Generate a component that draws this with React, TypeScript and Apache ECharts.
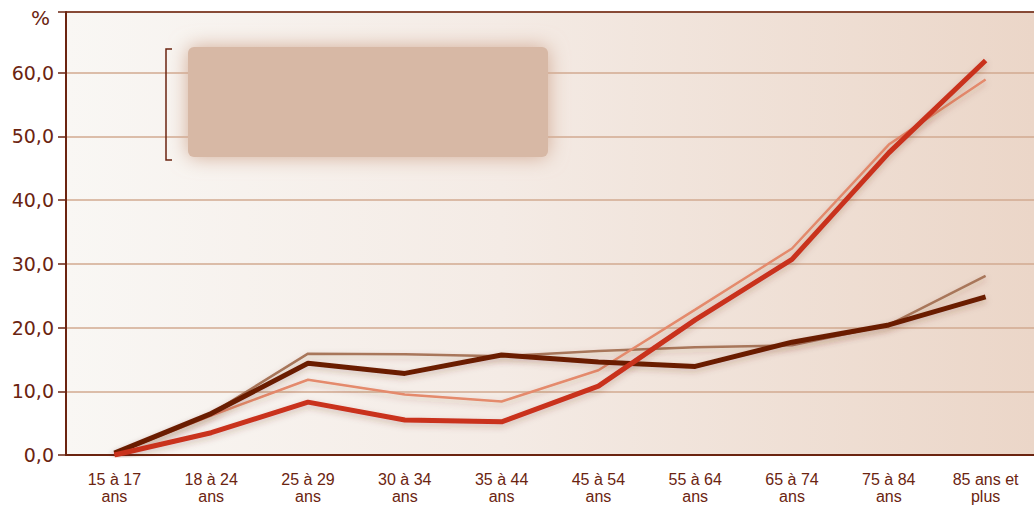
import React, { useEffect, useRef } from "react";
import * as echarts from "echarts";

const categories = [
  "15 à 17\nans",
  "18 à 24\nans",
  "25 à 29\nans",
  "30 à 34\nans",
  "35 à 44\nans",
  "45 à 54\nans",
  "55 à 64\nans",
  "65 à 74\nans",
  "75 à 84\nans",
  "85 ans et\nplus",
];

const darkThick = [0.3, 6.5, 14.4, 12.8, 15.7, 14.6, 13.9, 17.7, 20.4, 24.8];
const brownThin = [0.3, 6.5, 15.9, 15.8, 15.5, 16.3, 16.9, 17.2, 20.4, 28.1];
const salmonThin = [0.2, 6.2, 11.8, 9.5, 8.4, 13.3, 22.8, 32.4, 48.7, 58.9];
const redThick = [0.0, 3.5, 8.3, 5.5, 5.2, 10.8, 21.2, 30.7, 47.4, 61.9];

const yTicks = [0, 10, 20, 30, 40, 50, 60];

const BROWN = "#6b2410";

export default function App() {
  const ref = useRef<HTMLDivElement>(null);

  useEffect(() => {
    if (!ref.current) return;
    const chart = echarts.init(ref.current, undefined, { renderer: "svg" });
    const shadow = {
      shadowColor: "rgba(110,50,20,0.25)",
      shadowBlur: 6,
      shadowOffsetY: 3,
    };
    chart.setOption({
      animation: false,
      grid: {
        left: 66,
        top: 12,
        right: -2,
        bottom: 51,
        show: true,
        borderWidth: 0,
        backgroundColor: new echarts.graphic.LinearGradient(0, 0, 1, 0, [
          { offset: 0, color: "#f9f7f4" },
          { offset: 0.45, color: "#f4ebe5" },
          { offset: 1, color: "#ebd6c8" },
        ]),
      },
      xAxis: {
        type: "category",
        data: categories,
        boundaryGap: true,
        axisLine: { lineStyle: { color: BROWN, width: 2 } },
        axisTick: { inside: true, length: 9, lineStyle: { color: BROWN, width: 1.5 } },
        axisLabel: {
          color: BROWN,
          fontFamily: "Liberation Sans, Arial, sans-serif",
          fontSize: 16,
          lineHeight: 17,
          margin: 16,
        },
      },
      yAxis: {
        type: "value",
        min: 0,
        max: 69.5,
        interval: 10,
        axisLine: { show: true, lineStyle: { color: BROWN, width: 2 } },
        axisTick: { show: true, length: 8, lineStyle: { color: BROWN, width: 1.5 } },
        axisLabel: {
          color: BROWN,
          fontFamily: "DejaVu Sans, sans-serif",
          fontSize: 19,
          margin: 12,
          formatter: (v: number) =>
            yTicks.includes(v) ? v.toFixed(1).replace(".", ",") : "",
        },
        splitLine: { lineStyle: { color: "#d2aa90", width: 1.5 } },
      },
      graphic: [
        {
          type: "line",
          shape: { x1: 66, y1: 12, x2: 1034, y2: 12 },
          style: { stroke: BROWN, lineWidth: 1.5 },
          z: 10,
        },
        {
          type: "text",
          left: 31,
          top: 8,
          style: {
            text: "%",
            fill: BROWN,
            fontSize: 20,
            fontFamily: "DejaVu Sans, sans-serif",
          },
        },
        {
          type: "rect",
          shape: { x: 188, y: 47, width: 360, height: 110, r: 6 },
          style: {
            fill: "#d7b8a5",
            shadowBlur: 20,
            shadowColor: "rgba(210,170,148,1)",
          },
          z: 5,
        },
        {
          type: "polyline",
          shape: { points: [[172, 49], [166, 49], [166, 160], [172, 160]] },
          style: { stroke: BROWN, lineWidth: 1.5, fill: "none" },
          z: 5,
        },
      ],
      series: [
        {
          type: "line",
          data: brownThin,
          symbol: "none",
          lineStyle: { color: "#a8765a", width: 2.5, ...shadow },
          z: 2,
        },
        {
          type: "line",
          data: salmonThin,
          symbol: "none",
          lineStyle: { color: "#e48a6c", width: 2.5, ...shadow },
          z: 2,
        },
        {
          type: "line",
          data: darkThick,
          symbol: "none",
          lineStyle: { color: "#6a1f00", width: 5, ...shadow },
          z: 3,
        },
        {
          type: "line",
          data: redThick,
          symbol: "none",
          lineStyle: { color: "#c9301c", width: 5, ...shadow },
          z: 4,
        },
      ],
    });
    return () => chart.dispose();
  }, []);

  return <div ref={ref} style={{ width: 1034, height: 506, position: "absolute", left: 0, top: 0 }} />;
}
